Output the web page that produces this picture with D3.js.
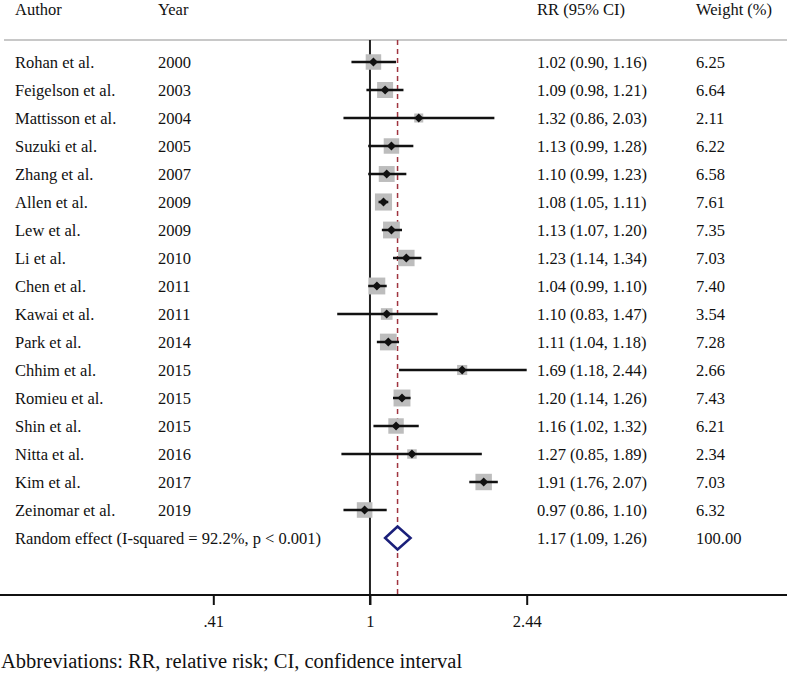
<!DOCTYPE html>
<html>
<head>
<meta charset="utf-8">
<script src="https://cdn.jsdelivr.net/npm/d3@7"></script>
<style>
  body { margin: 0; background: #fff; }
  text { font-family: "Liberation Serif", "Times New Roman", serif; fill: #111; }
</style>
</head>
<body>
<svg width="787" height="677"></svg>
<script>
const authors = ["Rohan et al.", "Feigelson et al.", "Mattisson et al.", "Suzuki et al.", "Zhang et al.",
  "Allen et al.", "Lew et al.", "Li et al.", "Chen et al.", "Kawai et al.", "Park et al.", "Chhim et al.",
  "Romieu et al.", "Shin et al.", "Nitta et al.", "Kim et al.", "Zeinomar et al."];
const years = [2000, 2003, 2004, 2005, 2007, 2009, 2009, 2010, 2011, 2011, 2014, 2015, 2015, 2015, 2016, 2017, 2019];
const rr = [1.02, 1.09, 1.32, 1.13, 1.10, 1.08, 1.13, 1.23, 1.04, 1.10, 1.11, 1.69, 1.20, 1.16, 1.27, 1.91, 0.97];
const lower = [0.90, 0.98, 0.86, 0.99, 0.99, 1.05, 1.07, 1.14, 0.99, 0.83, 1.04, 1.18, 1.14, 1.02, 0.85, 1.76, 0.86];
const upper = [1.16, 1.21, 2.03, 1.28, 1.23, 1.11, 1.20, 1.34, 1.10, 1.47, 1.18, 2.44, 1.26, 1.32, 1.89, 2.07, 1.10];
const weights = [6.25, 6.64, 2.11, 6.22, 6.58, 7.61, 7.35, 7.03, 7.40, 3.54, 7.28, 2.66, 7.43, 6.21, 2.34, 7.03, 6.32];

const pooled = { label: "Random effect (I-squared = 92.2%, p < 0.001)", rr: 1.17, lower: 1.09, upper: 1.26, weight: "100.00" };
const headers = ["Author", "Year", "RR (95% CI)", "Weight (%)"];
const tickVals = [0.41, 1, 2.44];
const tickLabels = [".41", "1", "2.44"];

const svg = d3.select("svg"),
  width = +svg.attr("width"),
  height = +svg.attr("height");

const fmt = d3.format(".2f");
const rows = authors.map((a, i) => ({
  author: a, year: years[i], rr: rr[i], lo: lower[i], hi: upper[i], w: weights[i]
}));

const x = d3.scaleLog()
  .domain([0.41, 2.44])
  .range([213.3, 526.7]);

const y = d3.scaleLinear()
  .domain([0, 1])
  .range([62, 90]);

const topY = 40, axisY = 595;
const col = { author: 15, year: 158, ci: 537, weight: 696 };

// header
svg.selectAll("text.header")
  .data(headers)
  .enter().append("text")
  .attr("class", "header")
  .attr("x", (d, i) => [col.author, col.year, col.ci, col.weight][i])
  .attr("y", 15)
  .attr("font-size", 16.5)
  .text(d => d);

svg.append("line")
  .attr("x1", 4).attr("x2", width)
  .attr("y1", topY).attr("y2", topY)
  .attr("stroke", "#c8c8c8")
  .attr("stroke-width", 2);

// null line and pooled estimate line
svg.append("line")
  .attr("x1", x(1)).attr("x2", x(1))
  .attr("y1", topY).attr("y2", axisY + 10)
  .attr("stroke", "#222")
  .attr("stroke-width", 2);

svg.append("line")
  .attr("x1", x(pooled.rr)).attr("x2", x(pooled.rr))
  .attr("y1", topY).attr("y2", axisY)
  .attr("stroke", "#a0343f")
  .attr("stroke-width", 1.5)
  .attr("stroke-dasharray", "5,4");

// study rows
const g = svg.append("g").attr("class", "studies");

const row = g.selectAll("g.row")
  .data(rows)
  .enter().append("g")
  .attr("class", "row")
  .attr("transform", (d, i) => "translate(0," + y(i) + ")");

row.append("rect")
  .attr("x", d => x(d.rr) - 3.1 * Math.sqrt(d.w))
  .attr("y", d => -3.1 * Math.sqrt(d.w))
  .attr("width", d => 6.2 * Math.sqrt(d.w))
  .attr("height", d => 6.2 * Math.sqrt(d.w))
  .attr("fill", "#bdbdbd");

row.append("line")
  .attr("x1", d => x(d.lo))
  .attr("x2", d => x(d.hi))
  .attr("stroke", "#111")
  .attr("stroke-width", 2.5);

row.append("path")
  .attr("d", d => {
    const cx = x(d.rr);
    return "M" + (cx - 4.5) + ",0L" + cx + ",-4.5L" + (cx + 4.5) + ",0L" + cx + ",4.5Z";
  })
  .attr("fill", "#111");

row.append("text")
  .attr("x", col.author).attr("y", 5.5)
  .attr("font-size", 16.5)
  .text(d => d.author);

row.append("text")
  .attr("x", col.year).attr("y", 5.5)
  .attr("font-size", 16.5)
  .text(d => d.year);

row.append("text")
  .attr("x", col.ci).attr("y", 5.5)
  .attr("font-size", 16.5)
  .text(d => fmt(d.rr) + " (" + fmt(d.lo) + ", " + fmt(d.hi) + ")");

row.append("text")
  .attr("x", col.weight).attr("y", 5.5)
  .attr("font-size", 16.5)
  .text(d => fmt(d.w));

// pooled row
const py = y(rows.length);
const pg = svg.append("g").attr("transform", "translate(0," + py + ")");

pg.append("path")
  .attr("d", "M" + x(pooled.lower) + ",0L" + x(pooled.rr) + ",-11.5L" + x(pooled.upper) + ",0L" + x(pooled.rr) + ",11.5Z")
  .attr("fill", "#fff")
  .attr("stroke", "#1a1f7a")
  .attr("stroke-width", 2.5);

pg.append("text").attr("x", col.author).attr("y", 5.5).attr("font-size", 16.5).text(pooled.label);
pg.append("text").attr("x", col.ci).attr("y", 5.5).attr("font-size", 16.5)
  .text(fmt(pooled.rr) + " (" + fmt(pooled.lower) + ", " + fmt(pooled.upper) + ")");
pg.append("text").attr("x", col.weight).attr("y", 5.5).attr("font-size", 16.5).text(pooled.weight);

// x axis
const ax = svg.append("g")
  .attr("transform", "translate(0," + axisY + ")")
  .call(d3.axisBottom(x)
    .tickValues(tickVals)
    .tickSize(10)
    .tickFormat((d, i) => tickLabels[i]));

ax.select(".domain").remove();
ax.selectAll(".tick line").attr("stroke", "#111").attr("stroke-width", 2);
ax.selectAll(".tick text")
  .attr("font-family", "Liberation Serif, serif")
  .attr("font-size", 16.5)
  .attr("fill", "#111")
  .attr("dy", null)
  .attr("y", 32);

svg.append("line")
  .attr("x1", 0).attr("x2", width)
  .attr("y1", axisY).attr("y2", axisY)
  .attr("stroke", "#111")
  .attr("stroke-width", 2);

svg.append("text")
  .attr("x", 1)
  .attr("y", 668)
  .attr("font-size", 20.5)
  .text("Abbreviations: RR, relative risk; CI, confidence interval");
</script>
</body>
</html>
